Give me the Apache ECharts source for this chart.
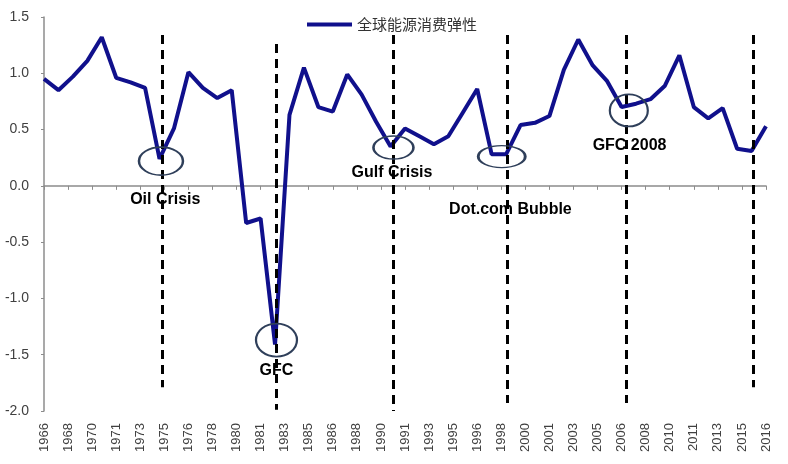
<!DOCTYPE html>
<html>
<head>
<meta charset="utf-8">
<script src="https://cdn.jsdelivr.net/npm/echarts@6/dist/echarts.min.js"></script>
<style>
  html, body { margin: 0; padding: 0; background: #fff; }
  #chart { width: 788px; height: 464px; }
</style>
</head>
<body>
<div id="chart"></div>
<script>
// 全球能源消费弹性 1966-2016
const years = []
for (let y = 1966; y <= 2016; y++) years.push(y)
const elasticity = [
  0.95, 0.85, 0.97, 1.11, 1.32, 0.96, 0.92, 0.87, 0.24, 0.51,
  1.01, 0.87, 0.78, 0.85, -0.33, -0.29, -1.41, 0.63, 1.05, 0.70,
  0.66, 0.99, 0.81, 0.57, 0.35, 0.51, 0.44, 0.37, 0.44, 0.65,
  0.86, 0.28, 0.28, 0.54, 0.56, 0.62, 1.03, 1.30, 1.07, 0.93,
  0.70, 0.73, 0.77, 0.89, 1.16, 0.70, 0.60, 0.69, 0.33, 0.31,
  0.53
]
// tick labels as printed under the axis
const tickLabels = [
  '1966', '1968', '1970', '1971', '1973', '1975', '1976', '1978', '1980', '1981',
  '1983', '1985', '1986', '1988', '1990', '1991', '1993', '1995', '1996', '1998',
  '2000', '2001', '2003', '2005', '2006', '2008', '2010', '2011', '2013', '2015',
  '2016'
]
// dashed event lines: [year, line top, line bottom]
const eventLines = [
  [1974.2, 1.34, -1.79],
  [1982.05, 1.26, -1.99],
  [1990.2, 1.34, -2.0],
  [1998.1, 1.34, -1.93],
  [2006.3, 1.34, -1.93],
  [2015.1, 1.34, -1.79]
]
// circles round the dips: [year, value, width px, height px]
const eventCircles = [
  [1974.1, 0.22, 44, 28],
  [1982.1, -1.37, 41, 33],
  [1990.2, 0.34, 40, 23],
  [1997.7, 0.26, 47, 22],
  [2006.5, 0.67, 38, 32]
]
// event labels: [text, year, value]
const eventNames = [
  ['Oil Crisis', 1974.4, -0.12],
  ['GFC', 1982.1, -1.64],
  ['Gulf Crisis', 1990.1, 0.12],
  ['Dot.com Bubble', 1998.3, -0.21],
  ['GFC 2008', 2006.55, 0.36]
]

const chart = echarts.init(document.getElementById('chart'))

const markLines = eventLines.map(d => [
  { coord: [d[0], d[1]] },
  { coord: [d[0], d[2]] }
])
const markPoints = eventCircles.map(d => ({
  coord: [d[0], d[1]],
  symbol: 'circle',
  symbolSize: [d[2], d[3]],
  itemStyle: { color: 'rgba(0,0,0,0)', borderColor: '#2f3f5a', borderWidth: 2 },
  label: { show: false }
})).concat(eventNames.map(d => ({
  coord: [d[1], d[2]],
  name: d[0],
  symbol: 'circle',
  symbolSize: 1,
  itemStyle: { color: 'rgba(0,0,0,0)' },
  label: {
    show: true,
    position: 'inside',
    formatter: d[0],
    fontFamily: 'Liberation Sans',
    fontWeight: 'bold',
    fontSize: 16,
    color: '#000'
  }
})))

chart.setOption({
  animation: false,
  backgroundColor: '#fff',
  grid: { left: 44, right: 22, top: 17, bottom: 53 },
  legend: {
    left: 302,
    top: 12,
    icon: 'rect',
    itemWidth: 45,
    itemHeight: 4,
    itemGap: 5,
    textStyle: { fontFamily: 'Noto Sans CJK SC', fontSize: 15, color: '#333' },
    data: ['全球能源消费弹性']
  },
  xAxis: [
    {
      type: 'value',
      min: 1966,
      max: 2016,
      show: false,
      axisLine: { onZero: false }
    },
    {
      type: 'category',
      data: tickLabels,
      boundaryGap: false,
      position: 'bottom',
      axisLine: { onZero: true, onZeroAxisIndex: 0, lineStyle: { color: '#8c8c8c', width: 1.5 } },
      axisTick: { show: true, length: 4, interval: 0, lineStyle: { color: '#8c8c8c' } },
      axisLabel: { show: false },
      splitLine: { show: false }
    },
    {
      type: 'category',
      data: tickLabels,
      boundaryGap: false,
      position: 'bottom',
      axisLine: { show: false, onZero: false },
      axisTick: { show: false },
      axisLabel: {
        interval: 0,
        rotate: 90,
        margin: 12,
        fontFamily: 'Liberation Sans',
        fontSize: 13,
        color: '#404040'
      },
      splitLine: { show: false }
    }
  ],
  yAxis: {
    type: 'value',
    min: -2,
    max: 1.5,
    interval: 0.5,
    axisLine: { show: true, onZero: false, lineStyle: { color: '#8c8c8c', width: 1.5 } },
    axisTick: { show: true, length: 3, lineStyle: { color: '#8c8c8c' } },
    axisLabel: {
      formatter: v => v.toFixed(1),
      fontFamily: 'Liberation Sans',
      fontSize: 14,
      color: '#404040',
      margin: 15
    },
    splitLine: { show: false }
  },
  series: [
    {
      name: '全球能源消费弹性',
      type: 'line',
      xAxisIndex: 0,
      clip: false,
      symbol: 'none',
      data: years.map((y, i) => [y, elasticity[i]]),
      itemStyle: { color: '#10108c' },
      lineStyle: { color: '#10108c', width: 4 },
      markLine: {
        silent: true,
        symbol: 'none',
        label: { show: false },
        lineStyle: { color: '#000', width: 3, type: [9, 6] },
        data: markLines
      },
      markPoint: {
        silent: true,
        data: markPoints
      }
    }
  ]
})
</script>
</body>
</html>
